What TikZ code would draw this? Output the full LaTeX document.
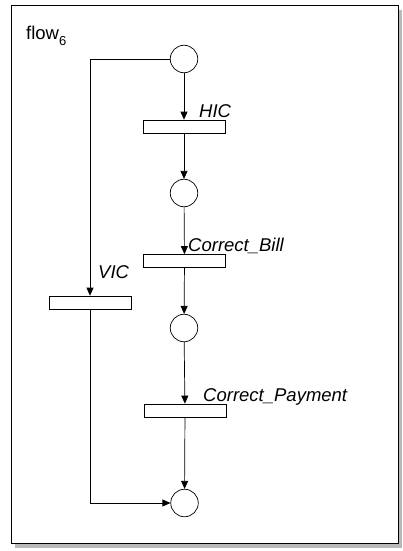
\documentclass[tikz,border=0pt]{standalone}
\usepackage{fontspec}
\setmainfont{Liberation Sans}
\usetikzlibrary{arrows.meta}
\begin{document}
\begin{tikzpicture}[x=1pt,y=-1pt,
  place/.style={circle,draw,line width=0.7pt,minimum size=27.5pt,inner sep=0pt,fill=white},
  trans/.style={rectangle,draw,line width=0.7pt,minimum width=82pt,minimum height=13pt,inner sep=0pt,fill=white},
  arc/.style={line width=0.7pt,-{Triangle[length=8pt,width=7pt]}},
  lbl/.style={anchor=base west,inner sep=0pt,font=\fontsize{18.5}{22}\selectfont\itshape},
]
\useasboundingbox (0,0) rectangle (402,551);
% frame with shadow
\fill[gray!55] (15,10) rectangle (402,548);
\draw[line width=0.8pt,fill=white] (11,5) rectangle (398,543);
% title
\node[anchor=base west,inner sep=0pt,font=\fontsize{18.5}{22}\selectfont] (title) at (26,40) {flow\raisebox{-6pt}{\fontsize{13}{15}\selectfont 6}};
% places
\node[place] (p1) at (184,59) {};
\node[place] (p2) at (184,193) {};
\node[place] (p3) at (184,328) {};
\node[place] (p4) at (184.5,503) {};
% transitions
\node[trans] (hic) at (184,126.5) {};
\node[trans] (bill) at (184.5,261) {};
\node[trans] (vic) at (90.5,302.5) {};
\node[trans] (pay) at (185,410.5) {};
% labels
\node[lbl] (lhic) at (199,117) {HIC};
\node[lbl] (lbill) at (188,251.5) {Correct\_Bill};
\node[lbl] (lvic) at (98,278) {VIC};
\node[lbl] (lpay) at (203,401.5) {Correct\_Payment};
% bend coordinates
\coordinate (c1) at (90,59);
\coordinate (c2) at (90,503);
% arcs
\draw[arc] (p1) -- (hic);
\draw[arc] (hic) -- (p2);
\draw[arc] (p2) -- (bill);
\draw[arc] (bill) -- (p3);
\draw[arc] (p3) -- (pay);
\draw[arc] (pay) -- (p4);
\draw[arc] (p1.west) -- (c1) -- (vic.north -| c1);
\draw[arc] (vic.south -| c2) -- (c2) -- (p4.west);
\end{tikzpicture}
\end{document}
